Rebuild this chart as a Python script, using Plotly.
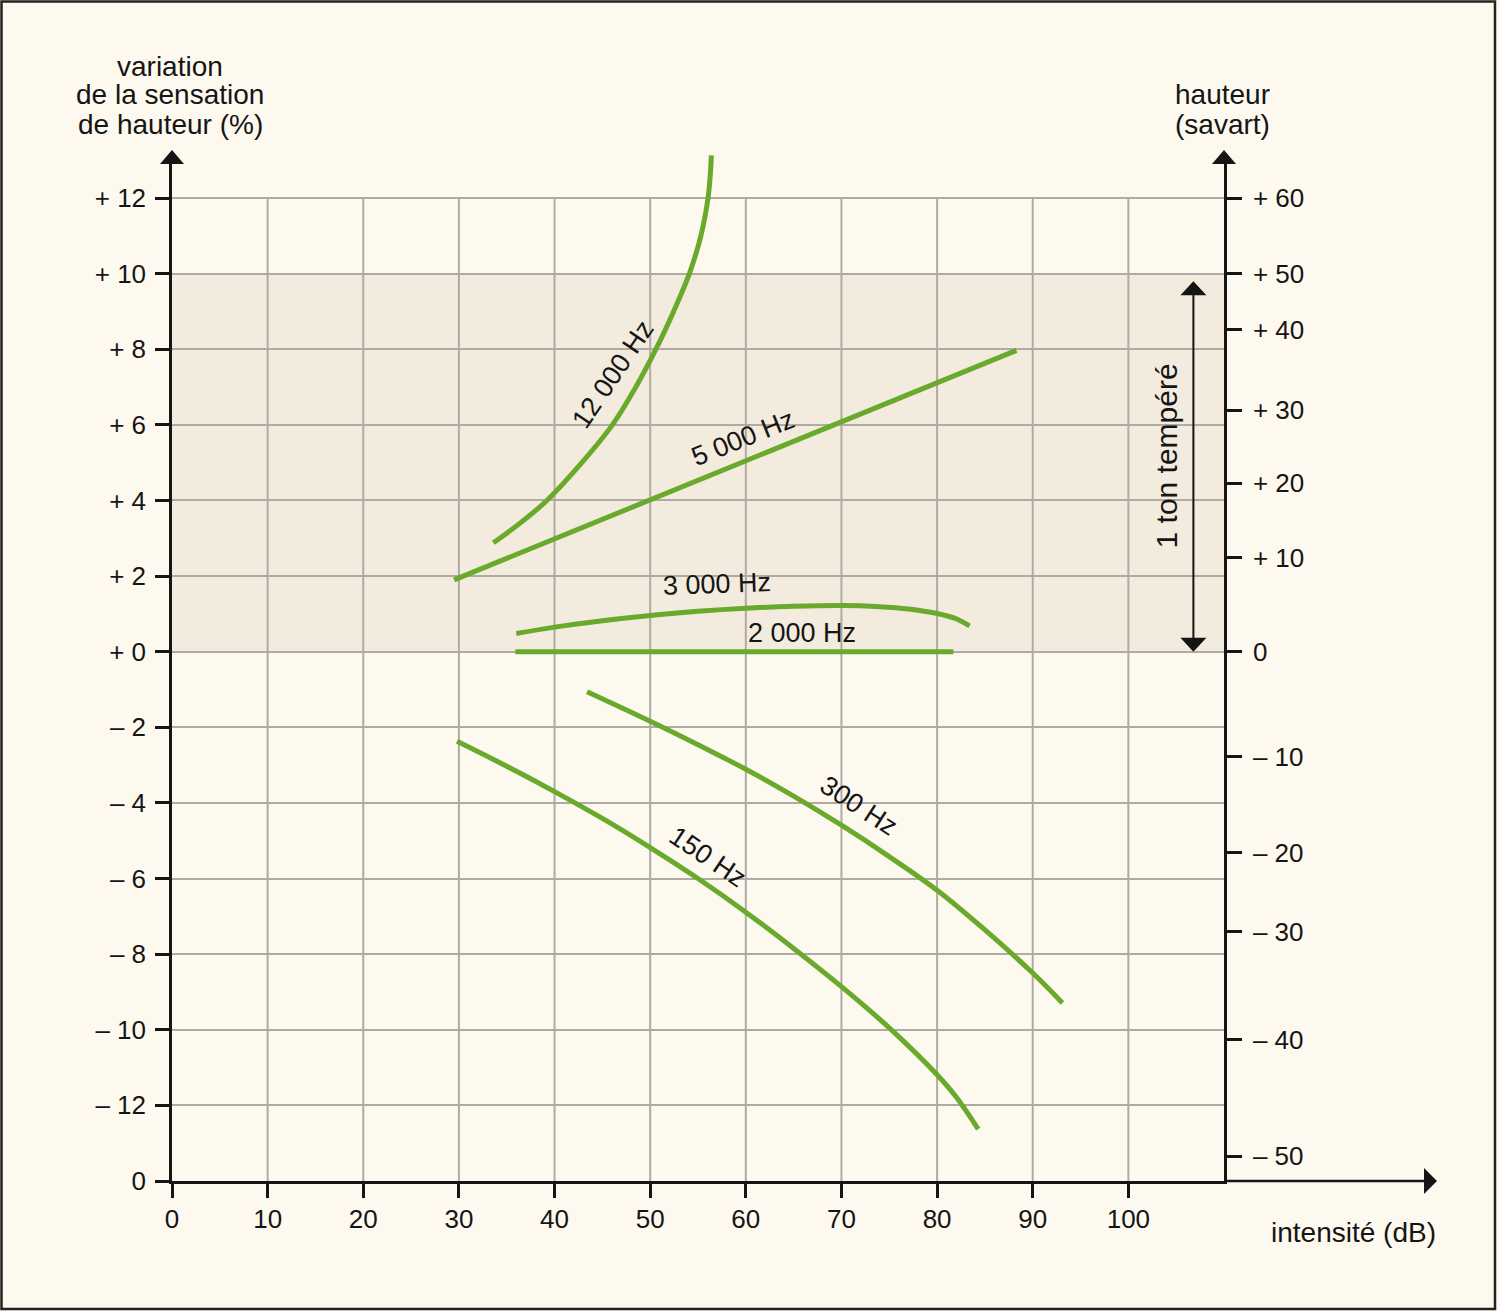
import plotly.graph_objects as go

# ---------------- data ----------------
x_12000 = [33.6, 36.5, 39.2, 42.85, 46.05, 48.5, 50.6, 52.45, 54.1, 55.3, 56.05, 56.28, 56.4]
y_12000 = [2.88, 3.42, 4.0, 5.0, 6.0, 7.0, 8.0, 9.0, 10.0, 11.0, 12.0, 12.6, 13.13]

x_5000 = [29.5, 88.3]
y_5000 = [1.9, 7.97]

x_3000 = [36, 40, 45, 50, 55, 60, 65, 70, 74, 77, 80, 82, 83.4]
y_3000 = [0.48, 0.65, 0.82, 0.96, 1.07, 1.15, 1.20, 1.22, 1.19, 1.13, 1.01, 0.87, 0.68]

x_2000 = [35.9, 81.7]
y_2000 = [0.0, 0.0]

x_300 = [43.4, 50, 55, 60, 65, 70, 75, 80, 85, 90, 93.1]
y_300 = [-1.06, -1.84, -2.46, -3.11, -3.82, -4.59, -5.42, -6.31, -7.36, -8.50, -9.29]

x_150 = [29.8, 35, 40, 45, 50, 55, 60, 65, 70, 75, 80, 82, 84.3]
y_150 = [-2.37, -3.03, -3.70, -4.41, -5.18, -6.00, -6.89, -7.85, -8.86, -9.95, -11.19, -11.78, -12.63]

x_ticks = [0, 10, 20, 30, 40, 50, 60, 70, 80, 90, 100]
x_ticktext = ["0", "10", "20", "30", "40", "50", "60", "70", "80", "90", "100"]

y_ticks = [-14, -12, -10, -8, -6, -4, -2, 0, 2, 4, 6, 8, 10, 12]
y_ticktext = ["0", "– 12", "– 10", "– 8", "– 6", "– 4", "– 2",
              "+ 0", "+ 2", "+ 4", "+ 6", "+ 8", "+ 10", "+ 12"]

# savart scale (right axis), positions expressed in % units
savart_pos = [12, 10, 8.51, 6.39, 4.46, 2.48, 0, -2.78, -5.32, -7.41, -10.27, -13.34]
savart_text = ["+ 60", "+ 50", "+ 40", "+ 30", "+ 20", "+ 10", "0",
               "– 10", "– 20", "– 30", "– 40", "– 50"]

# curve labels: text, x, y, angle
curve_labels = [
    ("12 000 Hz", 46.1, 7.35, -56),
    ("5 000 Hz", 59.7, 5.65, -22),
    ("3 000 Hz", 56.95, 1.79, -2),
    ("2 000 Hz", 65.9, 0.49, 0),
    ("300 Hz", 71.85, -4.08, 33),
    ("150 Hz", 56.05, -5.43, 34),
]

band_y = (0, 10)                            # shaded band
grid_top = 12                               # grid stops here
grid_x = [10, 20, 30, 40, 50, 60, 70, 80, 90, 100]
ton_x, ton_y0, ton_y1 = 106.8, 0.0, 9.8     # "1 ton tempéré" double arrow

# ---------------- layout geometry ----------------
W, H = 1500, 1311
ML, MR, MT, MB = 172, 276, 153, 130
PW, PH = W - ML - MR, H - MT - MB
XR = (0, 110)
YR = (-14, 12 + 45 / 37.81)

GREEN = "#69a92c"
GRID = "#afaba4"
BG = "#fdf9ef"
BAND = "#f3ebdd"
INK = "#151515"
FONT = "Liberation Sans, Arial, sans-serif"
TXT = 28


def xd(x):
    return (x - XR[0]) / (XR[1] - XR[0])


def yd(y):
    return (y - YR[0]) / (YR[1] - YR[0])


def X(p):  # pixel -> paper
    return (p - ML) / PW


def Y(p):
    return (H - MB - p) / PH


def lx(p):  # pixel length -> paper
    return p / PW


def ly(p):
    return p / PH


fig = go.Figure()

for xs, ys, ax in [(x_12000, y_12000, "y"), (x_5000, y_5000, "y"), (x_3000, y_3000, "y"),
                   (x_2000, y_2000, "y2"), (x_300, y_300, "y"), (x_150, y_150, "y")]:
    fig.add_trace(go.Scatter(x=xs, y=ys, mode="lines", yaxis=ax,
                             line=dict(color=GREEN, width=5, shape="spline", smoothing=1.0),
                             hoverinfo="skip", showlegend=False))

shapes = []
# shaded band
shapes.append(dict(type="rect", xref="x", yref="y", x0=XR[0], x1=XR[1], y0=band_y[0], y1=band_y[1],
                   fillcolor=BAND, line=dict(width=0), layer="below"))
# vertical grid lines, stopping at the top grid line
for gx in grid_x:
    shapes.append(dict(type="line", xref="x", yref="y", x0=gx, x1=gx, y0=YR[0], y1=grid_top,
                       line=dict(color=GRID, width=2), layer="below"))

LW = 2.5
# arrowheads on the vertical axes
top_tip = Y(150)
for xp in (0, 1):
    shapes.append(dict(type="path", xref="paper", yref="paper",
                       path=f"M{xp - lx(12)},{top_tip - ly(14)} L{xp + lx(12)},{top_tip - ly(14)} L{xp},{top_tip} Z",
                       fillcolor=INK, line=dict(width=0)))
# x axis extension + arrowhead
right_tip = X(1437)
shapes.append(dict(type="line", xref="paper", yref="paper", x0=1, x1=right_tip - lx(10), y0=0, y1=0,
                   line=dict(color=INK, width=LW)))
shapes.append(dict(type="path", xref="paper", yref="paper",
                   path=f"M{right_tip - lx(13)},{ly(13)} L{right_tip - lx(13)},{-ly(13)} L{right_tip},0 Z",
                   fillcolor=INK, line=dict(width=0)))

# "1 ton tempéré" double arrow
tx, t0, t1 = xd(ton_x), yd(ton_y0), yd(ton_y1)
shapes.append(dict(type="line", xref="paper", yref="paper", x0=tx, x1=tx, y0=t0 + ly(10), y1=t1 - ly(10),
                   line=dict(color=INK, width=2)))
shapes.append(dict(type="path", xref="paper", yref="paper",
                   path=f"M{tx - lx(13)},{t1 - ly(14)} L{tx + lx(13)},{t1 - ly(14)} L{tx},{t1} Z",
                   fillcolor=INK, line=dict(width=0)))
shapes.append(dict(type="path", xref="paper", yref="paper",
                   path=f"M{tx - lx(13)},{t0 + ly(14)} L{tx + lx(13)},{t0 + ly(14)} L{tx},{t0} Z",
                   fillcolor=INK, line=dict(width=0)))

# frame around the picture
shapes.append(dict(type="rect", xref="paper", yref="paper", x0=X(1.5), x1=X(1495), y0=Y(1.5), y1=Y(1309),
                   line=dict(color="#222222", width=2.5), fillcolor="rgba(0,0,0,0)"))

annotations = []
for txt, x, y, ang in curve_labels:
    annotations.append(dict(text=txt, x=x, y=y, xref="x", yref="y", showarrow=False, textangle=ang,
                            font=dict(size=27, color=INK, family=FONT)))
annotations.append(dict(text="1 ton tempéré", x=104.0, y=5.18, xref="x", yref="y", showarrow=False,
                        textangle=-90, font=dict(size=30, color=INK, family=FONT)))

for txt, px, py in [("variation", 170, 66), ("de la sensation", 170, 95), ("de hauteur (%)", 170, 124),
                    ("hauteur", 1222, 95), ("(savart)", 1222, 124)]:
    annotations.append(dict(text=txt, x=X(px), y=Y(py), xref="paper", yref="paper", showarrow=False,
                            xanchor="center", yanchor="middle", font=dict(size=TXT, color=INK, family=FONT)))
annotations.append(dict(text="intensité (dB)", x=X(1438), y=Y(1232), xref="paper", yref="paper",
                        showarrow=False, xanchor="right", yanchor="middle",
                        font=dict(size=TXT, color=INK, family=FONT)))

tickfont = dict(size=26, color=INK, family=FONT)
fig.update_layout(
    width=W, height=H,
    margin=dict(l=ML, r=MR, t=MT, b=MB, pad=0),
    paper_bgcolor=BG, plot_bgcolor=BG,
    font=dict(family=FONT, color=INK),
    shapes=shapes, annotations=annotations,
    xaxis=dict(range=list(XR), tickvals=x_ticks, ticktext=x_ticktext, showgrid=False,
               zeroline=False, showline=True, linecolor=INK, linewidth=LW,
               ticks="outside", ticklen=14, tickwidth=LW, tickcolor=INK, tickfont=tickfont,
               ticklabelstandoff=-1, fixedrange=True),
    yaxis=dict(range=list(YR), tickvals=y_ticks, ticktext=y_ticktext, showgrid=True, gridcolor=GRID,
               gridwidth=2, zeroline=False, showline=True, linecolor=INK, linewidth=LW,
               ticks="outside", ticklen=14, tickwidth=LW, tickcolor=INK, tickfont=tickfont,
               ticklabelstandoff=4, fixedrange=True),
    yaxis2=dict(range=list(YR), overlaying="y", side="right", tickvals=savart_pos, ticktext=savart_text,
                showgrid=False, zeroline=False, showline=True, linecolor=INK, linewidth=LW,
                ticks="outside", ticklen=15, tickwidth=LW, tickcolor=INK, tickfont=tickfont,
                ticklabelstandoff=6, fixedrange=True),
)

fig.write_html("out.html", config={"displayModeBar": False},
               post_script="document.body.style.margin='0';")
